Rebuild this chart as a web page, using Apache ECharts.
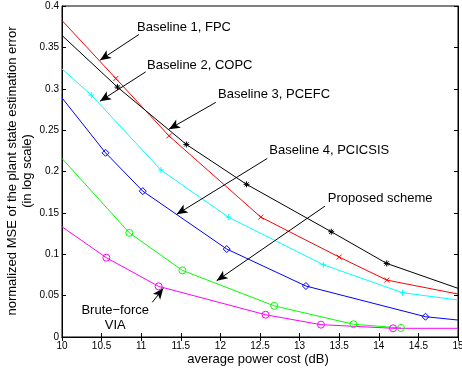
<!DOCTYPE html>
<html><head><meta charset="utf-8">
<script src="https://cdn.jsdelivr.net/npm/echarts@6/dist/echarts.min.js"></script>
<style>html,body{margin:0;padding:0;background:#fff}#c{width:462px;height:372px}</style>
</head><body><div id="c"></div>
<script>
// ---- data (x: average power cost dB, y: normalized MSE) ----
const xTicks = [10, 10.5, 11, 11.5, 12, 12.5, 13, 13.5, 14, 14.5, 15];
const yTicks = [0, 0.05, 0.1, 0.15, 0.2, 0.25, 0.3, 0.35, 0.4];
const fpc    = [[10,0.3825],[10.68,0.3124],[11.35,0.2431],[12.51,0.1449],[13.50,0.0966],[14.10,0.0688],[15,0.0519]];
const pcefc  = [[10,0.3644],[10.70,0.3020],[11.57,0.2327],[12.33,0.1845],[13.40,0.1272],[14.10,0.0889],[15,0.0588]];
const copc   = [[10,0.3240],[10.37,0.2923],[11.25,0.2017],[12.10,0.1449],[13.30,0.0873],[14.30,0.0535],[15,0.0447]];
const pcicsis= [[10,0.2890],[10.55,0.2226],[11.02,0.1763],[12.08,0.1063],[13.08,0.0616],[14.59,0.0245],[15,0.0205]];
const proposed=[[10,0.2158],[10.85,0.1259],[11.52,0.0805],[12.68,0.0376],[13.68,0.0154],[14.28,0.0109]];
const brute  = [[10,0.1332],[10.56,0.0958],[11.22,0.0612],[12.57,0.0269],[13.27,0.0149],[14.18,0.0105],[15,0.0105]];
const annTexts = [
  {text:'Baseline 1, FPC', at:[10.947,0.374], align:'left'},
  {text:'Baseline 2, COPC', at:[11.073,0.3281], align:'left'},
  {text:'Baseline 3, PCEFC', at:[11.970,0.2931], align:'left'},
  {text:'Baseline 4, PCICSIS', at:[12.617,0.225], align:'left'},
  {text:'Proposed scheme', at:[13.355,0.1675], align:'left'},
  {text:'Brute\u2212force\nVIA', at:[10.672,0.0231], align:'center'}
];
const annArrows = [
  [[10.972,0.3656],[10.480,0.3345]],
  [[11.057,0.3204],[10.480,0.2850]],
  [[11.941,0.2835],[11.351,0.2512]],
  [[12.592,0.2158],[11.448,0.1482]],
  [[13.321,0.1582],[11.953,0.0680]],
  [[11.140,0.0419],[11.279,0.0588]]
];
// ---- styling ----
const FONT = '"Liberation Sans", Arial, Helvetica, sans-serif';
const SYM = {
  x: 'path://M0,0L10,10M10,0L0,10',
  plus: 'path://M0,5L10,5M5,0L5,10',
  star: 'path://M0,5L10,5M5,0L5,10M1.5,1.5L8.5,8.5M8.5,1.5L1.5,8.5'
};
function mk(name, pts, color, symbol, size, lastMarker){
  return {
    name, type:'line', animation:false, silent:true,
    showSymbol:true, showAllSymbol:true, symbol, symbolSize:size,
    data: pts.map((p,i)=>({value:p, symbol:(i===0 || (i===pts.length-1 && !lastMarker)) ? 'none' : symbol})),
    lineStyle:{color, width:1},
    itemStyle:{color:'rgba(0,0,0,0)', borderColor:color, borderWidth:1},
    emphasis:{disabled:true}
  };
}
const chart = echarts.init(document.getElementById('c'), null, {renderer:'canvas'});
const fmt = v => String(+(+v).toFixed(2));
const series = [
  mk('Baseline 1, FPC', fpc, '#ff0000', SYM.x, 5, false),
  mk('Baseline 3, PCEFC', pcefc, '#000000', SYM.star, 6, false),
  mk('Baseline 2, COPC', copc, '#00ffff', SYM.plus, 6, false),
  mk('Baseline 4, PCICSIS', pcicsis, '#0000ff', 'diamond', 7, false),
  mk('Proposed scheme', proposed, '#00ff00', 'circle', 7, true),
  mk('Brute-force VIA', brute, '#ff00ff', 'circle', 7, false),
  {
    type:'line', data:[], silent:true, animation:false,
    markLine:{
      silent:true, animation:false, symbol:['none','arrow'], symbolSize:[7,11],
      label:{show:false}, emphasis:{disabled:true},
      lineStyle:{color:'#000', width:1, type:'solid'},
      data: annArrows.map(a=>[{coord:a[0]},{coord:a[1]}])
    }
  }
];
chart.setOption({
  animation:false,
  backgroundColor:'#fff',
  grid:{left:62, right:4, top:6, bottom:35, show:true, borderColor:'#000', borderWidth:1, backgroundColor:'#fff', containLabel:false, outerBoundsMode:'none'},
  xAxis:[
    {type:'value', min:xTicks[0], max:xTicks[xTicks.length-1], interval:0.5, position:'bottom',
     axisLine:{show:true, lineStyle:{color:'#000', width:1}},
     axisTick:{show:true, inside:true, length:4, lineStyle:{color:'#000'}},
     axisLabel:{formatter:fmt, color:'#000', fontSize:10, fontFamily:FONT, margin:4, showMaxLabel:true, showMinLabel:true, alignMaxLabel:'center', alignMinLabel:'center', hideOverlap:false},
     splitLine:{show:false}},
    {type:'value', min:xTicks[0], max:xTicks[xTicks.length-1], interval:0.5, position:'top',
     axisLine:{show:true, lineStyle:{color:'#000', width:1}},
     axisTick:{show:true, inside:true, length:4, lineStyle:{color:'#000'}},
     axisLabel:{show:false}, splitLine:{show:false}}
  ],
  yAxis:[
    {type:'value', min:yTicks[0], max:yTicks[yTicks.length-1], interval:0.05, position:'left',
     axisLine:{show:true, lineStyle:{color:'#000', width:1}},
     axisTick:{show:true, inside:true, length:4, lineStyle:{color:'#000'}},
     axisLabel:{formatter:fmt, color:'#000', fontSize:10, fontFamily:FONT, margin:3},
     splitLine:{show:false}},
    {type:'value', min:yTicks[0], max:yTicks[yTicks.length-1], interval:0.05, position:'right',
     axisLine:{show:true, lineStyle:{color:'#000', width:1}},
     axisTick:{show:true, inside:true, length:4, lineStyle:{color:'#000'}},
     axisLabel:{show:false}, splitLine:{show:false}}
  ],
  series
});
const g = [];
annTexts.forEach(t=>{
  const p = chart.convertToPixel({xAxisIndex:0, yAxisIndex:0}, t.at);
  g.push({type:'text', x:p[0], y:p[1], silent:true, z:100,
    style:{text:t.text, font:'13px '+FONT, fill:'#000', align:t.align, verticalAlign:'middle', lineHeight:15.5}});
});
g.push({type:'text', x:258, y:359, silent:true,
  style:{text:'average power cost (dB)', font:'13px '+FONT, fill:'#000', align:'center', verticalAlign:'middle'}});
g.push({type:'text', x:20, y:171, rotation:Math.PI/2, silent:true,
  style:{text:'normalized MSE of the plant state estimation error\n(in log scale)', font:'13px '+FONT, fill:'#000', align:'center', verticalAlign:'middle', lineHeight:15.5}});
chart.setOption({graphic:g});
</script>
</body></html>
